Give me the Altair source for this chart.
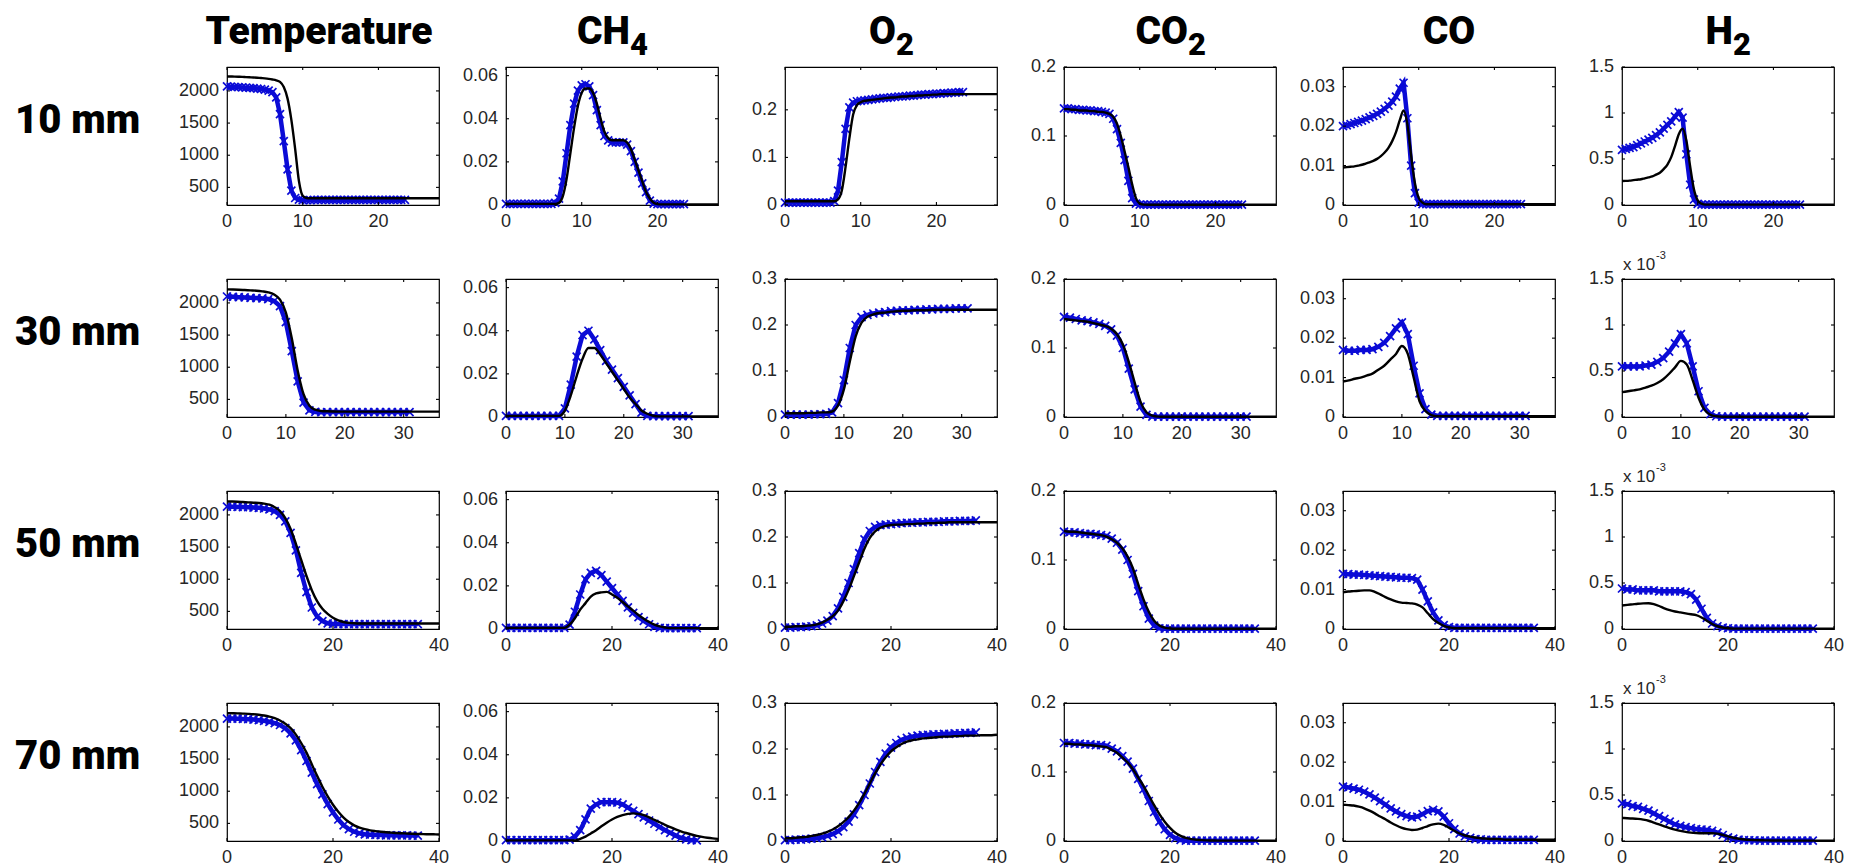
import altair as alt
import pandas as pd

# ---------------- sampling positions (x, arbitrary units) ----------------
X_R1_MODEL = [0, 0.5, 1, 1.5, 2, 2.5, 3, 3.5, 4, 4.5, 5, 5.5, 6, 6.5, 7, 7.5, 8, 8.5, 9, 9.5,
              10, 10.5, 11, 11.5, 12, 12.5, 13, 13.5, 14, 14.5, 15, 15.5, 16, 16.5, 17, 17.5,
              18, 18.5, 19, 19.5, 20, 20.5, 21, 21.5, 22, 22.5, 23, 23.5, 24, 24.5, 25, 25.5,
              26, 26.5, 27, 27.5, 28]
X_R1_MEAS = [0, 0.5, 1, 1.5, 2, 2.5, 3, 3.5, 4, 4.5, 5, 5.5, 6, 6.5, 7, 7.5, 8, 8.5, 9, 9.5,
             10, 10.5, 11, 11.5, 12, 12.5, 13, 13.5, 14, 14.5, 15, 15.5, 16, 16.5, 17, 17.5,
             18, 18.5, 19, 19.5, 20, 20.5, 21, 21.5, 22, 22.5, 23, 23.5]
X_R2_MODEL = [0, 1, 2, 3, 4, 5, 6, 7, 8, 9, 10, 11, 12, 13, 14, 15, 16, 17, 18, 19, 20,
              21, 22, 23, 24, 25, 26, 27, 28, 29, 30, 31, 32, 33, 34, 35, 36]
X_R2_MEAS = [0, 1, 2, 3, 4, 5, 6, 7, 8, 9, 10, 11, 12, 13, 14, 15, 16, 17, 18, 19, 20,
             21, 22, 23, 24, 25, 26, 27, 28, 29, 30, 31]
X_R34_MODEL = [0, 1, 2, 3, 4, 5, 6, 7, 8, 9, 10, 11, 12, 13, 14, 15, 16, 17, 18, 19, 20,
               21, 22, 23, 24, 25, 26, 27, 28, 29, 30, 31, 32, 33, 34, 35, 36, 37, 38, 39, 40]
X_R34_MEAS = [0, 1, 2, 3, 4, 5, 6, 7, 8, 9, 10, 11, 12, 13, 14, 15, 16, 17, 18, 19, 20,
              21, 22, 23, 24, 25, 26, 27, 28, 29, 30, 31, 32, 33, 34, 35, 36]

# ---------------- 10 mm ----------------
T10_MODEL = [2225, 2224, 2222, 2220, 2218, 2215, 2212, 2209, 2205, 2200,
             2195, 2188, 2178, 2165, 2140, 2060, 1880, 1550, 1100, 600,
             370, 335, 330,
             330, 330, 330, 330, 330, 330, 330, 330, 330, 330,
             330, 330, 330, 330, 330, 330, 330, 330, 330, 330,
             330, 330, 330, 330, 330, 330, 330, 330, 330, 330,
             330, 330, 330, 330]
T10_MEAS = [2070, 2066, 2062, 2058, 2054, 2050, 2046, 2042, 2036, 2030,
            2020, 2005, 1980, 1900, 1640, 1220, 780, 450, 335, 310,
            302, 300, 302,
            305, 305, 305, 305, 305, 305, 305, 305, 305, 305,
            305, 305, 305, 305, 305, 305, 305, 305, 305, 305,
            305, 305, 305, 305, 305]
CH4_10_MODEL = [0.0005, 0.0005, 0.0005, 0.0005, 0.0005, 0.0005, 0.0005, 0.0005, 0.0005, 0.0005,
                0.0005, 0.0005, 0.0005, 0.0005,
                0.001, 0.004, 0.012, 0.024, 0.036, 0.046, 0.052, 0.054, 0.054, 0.052,
                0.047, 0.040, 0.034, 0.031, 0.030, 0.030, 0.030, 0.030, 0.029, 0.026,
                0.021, 0.016, 0.011, 0.006, 0.003, 0.001, 0.0004,
                0.0003, 0.0003, 0.0003, 0.0003, 0.0003, 0.0003, 0.0003, 0.0003,
                0.0003, 0.0003, 0.0003, 0.0003, 0.0003, 0.0003, 0.0003, 0.0003]
CH4_10_MEAS = [0.0005, 0.0005, 0.0005, 0.0005, 0.0005, 0.0005, 0.0005, 0.0005, 0.0005, 0.0005,
               0.0005, 0.0005, 0.0005,
               0.001, 0.003, 0.011, 0.024, 0.037, 0.047, 0.053, 0.0555, 0.056, 0.055,
               0.051, 0.044, 0.037, 0.032, 0.030, 0.029, 0.029, 0.029, 0.029, 0.028,
               0.025, 0.020, 0.015, 0.010, 0.006, 0.002, 0.0006,
               0.0004, 0.0004, 0.0004, 0.0004, 0.0004, 0.0004, 0.0004, 0.0004]
O2_10_MODEL = [0.008, 0.008, 0.008, 0.008, 0.008, 0.008, 0.008, 0.008, 0.008, 0.008,
               0.008, 0.008, 0.008, 0.008,
               0.012, 0.030, 0.080, 0.140, 0.190, 0.210, 0.216, 0.219, 0.220, 0.221,
               0.222, 0.223, 0.224, 0.225, 0.226, 0.226, 0.227, 0.228, 0.228, 0.229,
               0.229, 0.230, 0.230, 0.231, 0.231, 0.232, 0.232,
               0.233, 0.233, 0.233, 0.233, 0.233, 0.233, 0.233, 0.233,
               0.233, 0.233, 0.233, 0.233, 0.233, 0.233, 0.233, 0.233]
O2_10_MEAS = [0.005, 0.005, 0.005, 0.005, 0.005, 0.005, 0.005, 0.005, 0.005, 0.005,
              0.005, 0.005, 0.005,
              0.008, 0.030, 0.090, 0.160, 0.205, 0.215, 0.218, 0.219, 0.220, 0.221,
              0.222, 0.223, 0.224, 0.225, 0.225, 0.226, 0.227, 0.228, 0.228, 0.229,
              0.230, 0.230, 0.231, 0.232, 0.232, 0.233, 0.233, 0.234, 0.234, 0.235,
              0.235, 0.236, 0.236, 0.237, 0.237]
CO2_10_MODEL = [0.139, 0.139, 0.138, 0.138, 0.137, 0.137, 0.137, 0.136, 0.136, 0.135,
                0.135, 0.134, 0.132, 0.128, 0.118, 0.100, 0.078, 0.055, 0.030, 0.010,
                0.002, 0.0005,
                0.0003, 0.0003, 0.0003, 0.0003, 0.0003, 0.0003, 0.0003, 0.0003, 0.0003, 0.0003,
                0.0003, 0.0003, 0.0003, 0.0003, 0.0003, 0.0003, 0.0003, 0.0003, 0.0003, 0.0003,
                0.0003, 0.0003, 0.0003, 0.0003, 0.0003, 0.0003, 0.0003, 0.0003, 0.0003, 0.0003,
                0.0003, 0.0003, 0.0003, 0.0003, 0.0003]
CO2_10_MEAS = [0.140, 0.140, 0.139, 0.139, 0.138, 0.138, 0.137, 0.137, 0.136, 0.136,
               0.135, 0.134, 0.132, 0.125, 0.110, 0.090, 0.065, 0.035, 0.010, 0.002,
               0.0004, 0.0004, 0.0004, 0.0004, 0.0004, 0.0004, 0.0004, 0.0004, 0.0004, 0.0004,
               0.0004, 0.0004, 0.0004, 0.0004, 0.0004, 0.0004, 0.0004, 0.0004, 0.0004, 0.0004,
               0.0004, 0.0004, 0.0004, 0.0004, 0.0004, 0.0004, 0.0004, 0.0004]
CO_10_MODEL = [0.0095, 0.0096, 0.0097, 0.0098, 0.0100, 0.0102, 0.0105, 0.0108, 0.0112, 0.0117,
               0.0124, 0.0133, 0.0145, 0.0162, 0.0185, 0.0215, 0.0240, 0.0205, 0.0125, 0.0055,
               0.0018, 0.0006,
               0.0002, 0.0002, 0.0002, 0.0002, 0.0002, 0.0002, 0.0002, 0.0002, 0.0002, 0.0002,
               0.0002, 0.0002, 0.0002, 0.0002, 0.0002, 0.0002, 0.0002, 0.0002, 0.0002, 0.0002,
               0.0002, 0.0002, 0.0002, 0.0002, 0.0002, 0.0002, 0.0002, 0.0002, 0.0002, 0.0002,
               0.0002, 0.0002, 0.0002, 0.0002, 0.0002]
CO_10_MEAS = [0.0200, 0.0202, 0.0205, 0.0208, 0.0211, 0.0214, 0.0218, 0.0222, 0.0226, 0.0231,
              0.0237, 0.0244, 0.0252, 0.0262, 0.0275, 0.0295, 0.0310, 0.0220, 0.0100, 0.0030,
              0.0006,
              0.0002, 0.0002, 0.0002, 0.0002, 0.0002, 0.0002, 0.0002, 0.0002, 0.0002, 0.0002,
              0.0002, 0.0002, 0.0002, 0.0002, 0.0002, 0.0002, 0.0002, 0.0002, 0.0002, 0.0002,
              0.0002, 0.0002, 0.0002, 0.0002, 0.0002, 0.0002, 0.0002]
H2_10_MODEL = [0.260, 0.262, 0.265, 0.270, 0.275, 0.280, 0.290, 0.300, 0.310, 0.330,
               0.350, 0.390, 0.440, 0.520, 0.640, 0.770, 0.830, 0.700, 0.420, 0.170,
               0.050, 0.015,
               0.004, 0.004, 0.004, 0.004, 0.004, 0.004, 0.004, 0.004, 0.004, 0.004,
               0.004, 0.004, 0.004, 0.004, 0.004, 0.004, 0.004, 0.004, 0.004, 0.004,
               0.004, 0.004, 0.004, 0.004, 0.004, 0.004, 0.004, 0.004, 0.004, 0.004,
               0.004, 0.004, 0.004, 0.004, 0.004]
H2_10_MEAS = [0.60, 0.61, 0.62, 0.63, 0.65, 0.67, 0.69, 0.71, 0.73, 0.76,
              0.79, 0.83, 0.87, 0.91, 0.96, 1.01, 0.95, 0.55, 0.22, 0.06,
              0.012,
              0.004, 0.004, 0.004, 0.004, 0.004, 0.004, 0.004, 0.004, 0.004, 0.004,
              0.004, 0.004, 0.004, 0.004, 0.004, 0.004, 0.004, 0.004, 0.004, 0.004,
              0.004, 0.004, 0.004, 0.004, 0.004, 0.004, 0.004]

# ---------------- 30 mm ----------------
T30_MODEL = [2210, 2208, 2205, 2200, 2195, 2190, 2180, 2165, 2130, 2050,
             1850, 1450, 950, 580, 400, 340, 320, 315, 312,
             310, 310, 310, 310, 310, 310, 310, 310, 310, 310,
             310, 310, 310, 310, 310, 310, 310, 310]
T30_MEAS = [2100, 2095, 2090, 2085, 2080, 2075, 2070, 2060, 2030, 1950,
            1700, 1250, 780, 450, 330, 305, 300,
            302, 302, 302, 302, 302, 302, 302, 302, 302, 302,
            302, 302, 302, 302, 302]
CH4_30_MODEL = [0.0005, 0.0005, 0.0005, 0.0005, 0.0005, 0.0005, 0.0005, 0.0005, 0.0005, 0.0005,
                0.003, 0.010, 0.019, 0.027, 0.032, 0.032, 0.029, 0.025, 0.021, 0.017,
                0.013, 0.009, 0.006, 0.003, 0.0015, 0.0006,
                0.0003, 0.0003, 0.0003, 0.0003, 0.0003, 0.0003, 0.0003, 0.0003, 0.0003, 0.0003,
                0.0003]
CH4_30_MEAS = [0.0005, 0.0005, 0.0005, 0.0005, 0.0005, 0.0005, 0.0005, 0.0005, 0.0005, 0.0005,
               0.004, 0.015, 0.028, 0.038, 0.040, 0.036, 0.031, 0.026, 0.022, 0.018,
               0.014, 0.010, 0.006, 0.002, 0.0005,
               0.0004, 0.0004, 0.0004, 0.0004, 0.0004, 0.0004, 0.0004]
O2_30_MODEL = [0.008, 0.008, 0.008, 0.008, 0.009, 0.009, 0.010, 0.010, 0.012, 0.025,
               0.060, 0.120, 0.175, 0.205, 0.218, 0.223, 0.226, 0.227, 0.229, 0.230,
               0.231, 0.231, 0.232, 0.232, 0.232,
               0.233, 0.233, 0.233, 0.233, 0.233, 0.233, 0.233, 0.233, 0.233, 0.233,
               0.233, 0.233]
O2_30_MEAS = [0.005, 0.005, 0.005, 0.005, 0.005, 0.006, 0.006, 0.007, 0.010, 0.030,
              0.080, 0.150, 0.200, 0.217, 0.222, 0.225, 0.227, 0.228, 0.230, 0.231,
              0.232, 0.232, 0.233, 0.233, 0.234, 0.234, 0.235, 0.235, 0.235, 0.236,
              0.236, 0.236]
CO2_30_MODEL = [0.142, 0.141, 0.140, 0.139, 0.138, 0.136, 0.134, 0.132, 0.128, 0.120,
                0.105, 0.080, 0.050, 0.022, 0.007, 0.002, 0.0006,
                0.0003, 0.0003, 0.0003, 0.0003, 0.0003, 0.0003, 0.0003, 0.0003, 0.0003, 0.0003,
                0.0003, 0.0003, 0.0003, 0.0003, 0.0003, 0.0003, 0.0003, 0.0003, 0.0003, 0.0003]
CO2_30_MEAS = [0.145, 0.144, 0.142, 0.140, 0.139, 0.137, 0.135, 0.132, 0.127, 0.118,
               0.100, 0.070, 0.040, 0.015, 0.003, 0.0006,
               0.0004, 0.0004, 0.0004, 0.0004, 0.0004, 0.0004, 0.0004, 0.0004,
               0.0004, 0.0004, 0.0004, 0.0004, 0.0004, 0.0004, 0.0004, 0.0004]
CO_30_MODEL = [0.0090, 0.0093, 0.0097, 0.0100, 0.0105, 0.0110, 0.0120, 0.0130, 0.0145, 0.0160,
               0.0180, 0.0160, 0.0100, 0.0040, 0.0015, 0.0005,
               0.0002, 0.0002, 0.0002, 0.0002, 0.0002, 0.0002, 0.0002, 0.0002, 0.0002, 0.0002,
               0.0002, 0.0002, 0.0002, 0.0002, 0.0002, 0.0002, 0.0002, 0.0002, 0.0002, 0.0002,
               0.0002]
CO_30_MEAS = [0.0170, 0.0168, 0.0168, 0.0170, 0.0170, 0.0172, 0.0178, 0.0188, 0.0205, 0.0225,
              0.0240, 0.0210, 0.0130, 0.0060, 0.0020, 0.0006,
              0.0003, 0.0003, 0.0003, 0.0003, 0.0003, 0.0003, 0.0003, 0.0003,
              0.0003, 0.0003, 0.0003, 0.0003, 0.0003, 0.0003, 0.0003, 0.0003]
H2_30_MODEL = [0.27, 0.28, 0.29, 0.30, 0.32, 0.34, 0.37, 0.41, 0.47, 0.54,
               0.61, 0.57, 0.40, 0.21, 0.08, 0.025, 0.008,
               0.003, 0.003, 0.003, 0.003, 0.003, 0.003, 0.003, 0.003, 0.003, 0.003,
               0.003, 0.003, 0.003, 0.003, 0.003, 0.003, 0.003, 0.003, 0.003, 0.003]
H2_30_MEAS = [0.55, 0.55, 0.55, 0.55, 0.56, 0.57, 0.60, 0.64, 0.71, 0.80,
              0.90, 0.80, 0.55, 0.28, 0.10, 0.03, 0.008,
              0.004, 0.004, 0.004, 0.004, 0.004, 0.004, 0.004, 0.004,
              0.004, 0.004, 0.004, 0.004, 0.004, 0.004, 0.004]

# ---------------- 50 mm ----------------
T50_MODEL = [2210, 2208, 2205, 2200, 2195, 2190, 2185, 2175, 2160, 2120,
             2060, 1950, 1780, 1550, 1300, 1050, 830, 660, 540, 460,
             400, 360, 335, 322, 315,
             312, 312, 312, 312, 312, 312, 312, 312, 312, 312,
             312, 312, 312, 312, 312, 312]
T50_MEAS = [2130, 2128, 2125, 2122, 2120, 2115, 2110, 2100, 2085, 2060,
            2000, 1900, 1720, 1450, 1100, 800, 560, 420, 350, 315,
            305,
            302, 302, 302, 302, 302, 302, 302, 302, 302, 302,
            302, 302, 302, 302, 302, 302]
CH4_50_MODEL = [0.0005, 0.0005, 0.0005, 0.0005, 0.0005, 0.0005, 0.0005, 0.0005, 0.0005, 0.0005,
                0.0005, 0.0005,
                0.002, 0.005, 0.009, 0.012, 0.015, 0.0165, 0.017, 0.0172, 0.016, 0.0145,
                0.0125, 0.0105, 0.0085, 0.0065, 0.0048, 0.0033, 0.002, 0.0012, 0.0007,
                0.0004, 0.0004, 0.0004, 0.0004, 0.0004, 0.0004, 0.0004, 0.0004, 0.0004, 0.0004]
CH4_50_MEAS = [0.0005, 0.0005, 0.0005, 0.0005, 0.0005, 0.0005, 0.0005, 0.0005, 0.0005, 0.0005,
               0.0005, 0.0005,
               0.002, 0.008, 0.016, 0.023, 0.026, 0.027, 0.025, 0.022, 0.019, 0.016,
               0.013, 0.010, 0.0075, 0.0055, 0.0038, 0.0022, 0.001, 0.0005,
               0.0004, 0.0004, 0.0004, 0.0004, 0.0004, 0.0004, 0.0004]
O2_50_MODEL = [0.005, 0.005, 0.006, 0.006, 0.007, 0.008, 0.010, 0.014, 0.020, 0.028,
               0.040, 0.060, 0.085, 0.115, 0.145, 0.175, 0.198, 0.212, 0.220, 0.224,
               0.226, 0.227, 0.227, 0.228, 0.228, 0.229, 0.229, 0.230, 0.230, 0.231,
               0.231,
               0.232, 0.232, 0.232, 0.232, 0.232, 0.232, 0.232, 0.232, 0.232, 0.232]
O2_50_MEAS = [0.003, 0.003, 0.004, 0.004, 0.005, 0.006, 0.008, 0.012, 0.018, 0.028,
              0.045, 0.070, 0.100, 0.130, 0.165, 0.195, 0.213, 0.222, 0.226, 0.227,
              0.228, 0.229, 0.230, 0.231, 0.231, 0.232, 0.232, 0.233, 0.233, 0.233,
              0.234, 0.234, 0.234, 0.235, 0.235, 0.235, 0.236]
CO2_50_MODEL = [0.142, 0.141, 0.141, 0.140, 0.139, 0.138, 0.137, 0.136, 0.134, 0.130,
                0.125, 0.117, 0.105, 0.088, 0.065, 0.043, 0.025, 0.012, 0.005, 0.002,
                0.0008,
                0.0003, 0.0003, 0.0003, 0.0003, 0.0003, 0.0003, 0.0003, 0.0003, 0.0003, 0.0003,
                0.0003, 0.0003, 0.0003, 0.0003, 0.0003, 0.0003, 0.0003, 0.0003, 0.0003, 0.0003]
CO2_50_MEAS = [0.141, 0.140, 0.140, 0.139, 0.138, 0.138, 0.137, 0.136, 0.135, 0.131,
               0.125, 0.115, 0.100, 0.080, 0.055, 0.033, 0.015, 0.005, 0.001,
               0.0004, 0.0004, 0.0004, 0.0004, 0.0004, 0.0004, 0.0004, 0.0004, 0.0004,
               0.0004, 0.0004, 0.0004, 0.0004, 0.0004, 0.0004, 0.0004, 0.0004, 0.0004]
CO_50_MODEL = [0.0093, 0.0095, 0.0096, 0.0097, 0.0098, 0.0098, 0.0094, 0.0088, 0.0081, 0.0075,
               0.0070, 0.0067, 0.0066, 0.0065, 0.0062, 0.0055, 0.0040, 0.0025, 0.0015, 0.0008,
               0.0004,
               0.0002, 0.0002, 0.0002, 0.0002, 0.0002, 0.0002, 0.0002, 0.0002, 0.0002, 0.0002,
               0.0002, 0.0002, 0.0002, 0.0002, 0.0002, 0.0002, 0.0002, 0.0002, 0.0002, 0.0002]
CO_50_MEAS = [0.0140, 0.0139, 0.0138, 0.0138, 0.0137, 0.0136, 0.0135, 0.0134, 0.0133, 0.0132,
              0.0131, 0.0130, 0.0130, 0.0129, 0.0125, 0.0100, 0.0070, 0.0042, 0.0022, 0.0010,
              0.0005,
              0.0003, 0.0003, 0.0003, 0.0003, 0.0003, 0.0003, 0.0003, 0.0003,
              0.0003, 0.0003, 0.0003, 0.0003, 0.0003, 0.0003, 0.0003, 0.0003]
H2_50_MODEL = [0.255, 0.262, 0.268, 0.274, 0.278, 0.280, 0.270, 0.250, 0.225, 0.205,
               0.190, 0.180, 0.170, 0.160, 0.150, 0.125, 0.090, 0.055, 0.030, 0.016,
               0.008,
               0.004, 0.004, 0.004, 0.004, 0.004, 0.004, 0.004, 0.004, 0.004, 0.004,
               0.004, 0.004, 0.004, 0.004, 0.004, 0.004, 0.004, 0.004, 0.004, 0.004]
H2_50_MEAS = [0.44, 0.43, 0.43, 0.42, 0.42, 0.42, 0.42, 0.41, 0.41, 0.41,
              0.41, 0.41, 0.40, 0.38, 0.32, 0.22, 0.12, 0.06, 0.03, 0.015,
              0.008,
              0.004, 0.004, 0.004, 0.004, 0.004, 0.004, 0.004, 0.004,
              0.004, 0.004, 0.004, 0.004, 0.004, 0.004, 0.004, 0.004]

# ---------------- 70 mm ----------------
T70_MODEL = [2215, 2213, 2210, 2207, 2203, 2198, 2190, 2178, 2160, 2135,
             2100, 2050, 1980, 1880, 1750, 1600, 1420, 1240, 1070, 920,
             790, 680, 590, 520, 470, 435, 410, 392, 380, 370,
             362, 356, 350, 346, 342, 338, 335, 333, 331, 330, 328]
T70_MEAS = [2130, 2130, 2128, 2125, 2120, 2115, 2105, 2095, 2080, 2060,
            2030, 1980, 1900, 1790, 1640, 1470, 1290, 1110, 950, 800,
            670, 560, 470, 410, 370, 345, 330, 325, 320, 318,
            315, 315, 313, 312, 312, 310, 310]
CH4_70_MODEL = [0.0003, 0.0003, 0.0003, 0.0003, 0.0003, 0.0003, 0.0003, 0.0003, 0.0003, 0.0003,
                0.0003, 0.0003, 0.0003, 0.0003,
                0.001, 0.002, 0.0035, 0.005, 0.0068, 0.0085, 0.010, 0.0112, 0.012, 0.0126,
                0.0128, 0.0126, 0.012, 0.011, 0.0098, 0.0087, 0.0075, 0.0064, 0.0054, 0.0045,
                0.0037, 0.003, 0.0024, 0.0019, 0.0015, 0.0012, 0.001]
CH4_70_MEAS = [0.0004, 0.0004, 0.0004, 0.0004, 0.0004, 0.0004, 0.0004, 0.0004, 0.0004, 0.0004,
               0.0004, 0.0004,
               0.0006, 0.002, 0.005, 0.010, 0.015, 0.017, 0.018, 0.018, 0.018, 0.0178,
               0.017, 0.0155, 0.014, 0.0125, 0.011, 0.0095, 0.008, 0.0065, 0.005, 0.0038,
               0.0025, 0.0015, 0.0008, 0.0004, 0.0003]
O2_70_MODEL = [0.006, 0.006, 0.007, 0.008, 0.009, 0.011, 0.013, 0.016, 0.020, 0.025,
               0.032, 0.041, 0.052, 0.066, 0.083, 0.103, 0.125, 0.147, 0.166, 0.182,
               0.195, 0.204, 0.211, 0.216, 0.219, 0.221, 0.223, 0.224, 0.225, 0.226,
               0.227, 0.227, 0.228, 0.228, 0.229, 0.229, 0.229, 0.230, 0.230, 0.230, 0.231]
O2_70_MEAS = [0.002, 0.002, 0.003, 0.003, 0.004, 0.005, 0.006, 0.008, 0.011, 0.015,
              0.021, 0.030, 0.042, 0.058, 0.078, 0.100, 0.125, 0.150, 0.172, 0.190,
              0.203, 0.213, 0.220, 0.224, 0.227, 0.229, 0.230, 0.231, 0.232, 0.232,
              0.233, 0.233, 0.234, 0.234, 0.235, 0.235, 0.236]
CO2_70_MODEL = [0.141, 0.141, 0.140, 0.140, 0.139, 0.139, 0.138, 0.137, 0.136, 0.132,
                0.128, 0.121, 0.114, 0.104, 0.092, 0.080, 0.066, 0.052, 0.039, 0.028,
                0.019, 0.012, 0.0075, 0.0045, 0.0028, 0.0018, 0.0012, 0.0009, 0.0007,
                0.0005, 0.0005, 0.0005, 0.0005, 0.0005, 0.0005, 0.0005, 0.0005, 0.0005,
                0.0005, 0.0005, 0.0005]
CO2_70_MEAS = [0.142, 0.142, 0.141, 0.141, 0.140, 0.140, 0.139, 0.139, 0.138, 0.134,
               0.130, 0.123, 0.115, 0.105, 0.090, 0.075, 0.058, 0.042, 0.028, 0.017,
               0.009, 0.004, 0.0015, 0.0005,
               0.0004, 0.0004, 0.0004, 0.0004, 0.0004, 0.0004, 0.0004, 0.0004, 0.0004,
               0.0004, 0.0004, 0.0004, 0.0004]
CO_70_MODEL = [0.0092, 0.0091, 0.0090, 0.0087, 0.0083, 0.0077, 0.0070, 0.0062, 0.0055, 0.0047,
               0.0040, 0.0034, 0.0030, 0.0028, 0.0029, 0.0033, 0.0038, 0.0042, 0.0044, 0.0041,
               0.0034, 0.0026, 0.0019, 0.0014, 0.0011, 0.0009, 0.0007, 0.0006, 0.0005, 0.0005,
               0.0004,
               0.0003, 0.0003, 0.0003, 0.0003, 0.0003, 0.0003, 0.0003, 0.0003, 0.0003, 0.0003]
CO_70_MEAS = [0.0138, 0.0136, 0.0133, 0.0130, 0.0125, 0.0118, 0.0110, 0.0101, 0.0092, 0.0083,
              0.0075, 0.0068, 0.0063, 0.0060, 0.0062, 0.0068, 0.0076, 0.0079, 0.0075, 0.0062,
              0.0045, 0.0030, 0.0019, 0.0012, 0.0008, 0.0005, 0.0004,
              0.0003, 0.0003, 0.0003, 0.0003, 0.0003, 0.0003, 0.0003, 0.0003, 0.0003, 0.0003]
H2_70_MODEL = [0.250, 0.248, 0.245, 0.240, 0.232, 0.220, 0.200, 0.180, 0.160, 0.140,
               0.124, 0.110, 0.099, 0.091, 0.087, 0.085, 0.085, 0.085, 0.080, 0.065,
               0.050, 0.035, 0.025, 0.017, 0.012, 0.010, 0.008, 0.007, 0.006, 0.005,
               0.005,
               0.004, 0.004, 0.004, 0.004, 0.004, 0.004, 0.004, 0.004, 0.004, 0.004]
H2_70_MEAS = [0.41, 0.40, 0.38, 0.37, 0.35, 0.33, 0.30, 0.27, 0.24, 0.21,
              0.18, 0.165, 0.150, 0.140, 0.130, 0.125, 0.120, 0.110, 0.090, 0.065,
              0.040, 0.025, 0.015, 0.010, 0.008, 0.006,
              0.005, 0.005, 0.005, 0.005, 0.005, 0.005, 0.005, 0.005, 0.005, 0.005, 0.005]

# ---------------- layout / labels ----------------
ROW_LABELS = ["10 mm", "30 mm", "50 mm", "70 mm"]
COL_MAIN = ["Temperature", "CH", "O", "CO", "CO", "H"]
COL_SUB = ["", "4", "2", "2", "", "2"]
X_MAX = [28, 36, 40, 40]
X_TICKS = [[0, 10, 20], [0, 10, 20, 30], [0, 20, 40], [0, 20, 40]]
X_TICK_LABELS = [["0", "10", "20"], ["0", "10", "20", "30"], ["0", "20", "40"], ["0", "20", "40"]]
Y_DOMAINS = [[226, 2372], [0, 0.064], [0, 0.3], [0, 0.2], [0, 0.035], [0, 1.5]]
Y_DOMAIN_O2_ROW1 = [0, 0.29]
Y_TICKS = [[500, 1000, 1500, 2000], [0, 0.02, 0.04, 0.06], [0, 0.1, 0.2, 0.3],
           [0, 0.1, 0.2], [0, 0.01, 0.02, 0.03], [0, 0.5, 1, 1.5]]
Y_TICK_LABELS = [["500", "1000", "1500", "2000"], ["0", "0.02", "0.04", "0.06"],
                 ["0", "0.1", "0.2", "0.3"], ["0", "0.1", "0.2"],
                 ["0", "0.01", "0.02", "0.03"], ["0", "0.5", "1", "1.5"]]
Y_TICKS_O2_ROW1 = [0, 0.1, 0.2]
Y_TICK_LABELS_O2_ROW1 = ["0", "0.1", "0.2"]

MODEL = [
    [T10_MODEL, CH4_10_MODEL, O2_10_MODEL, CO2_10_MODEL, CO_10_MODEL, H2_10_MODEL],
    [T30_MODEL, CH4_30_MODEL, O2_30_MODEL, CO2_30_MODEL, CO_30_MODEL, H2_30_MODEL],
    [T50_MODEL, CH4_50_MODEL, O2_50_MODEL, CO2_50_MODEL, CO_50_MODEL, H2_50_MODEL],
    [T70_MODEL, CH4_70_MODEL, O2_70_MODEL, CO2_70_MODEL, CO_70_MODEL, H2_70_MODEL],
]
MEAS = [
    [T10_MEAS, CH4_10_MEAS, O2_10_MEAS, CO2_10_MEAS, CO_10_MEAS, H2_10_MEAS],
    [T30_MEAS, CH4_30_MEAS, O2_30_MEAS, CO2_30_MEAS, CO_30_MEAS, H2_30_MEAS],
    [T50_MEAS, CH4_50_MEAS, O2_50_MEAS, CO2_50_MEAS, CO_50_MEAS, H2_50_MEAS],
    [T70_MEAS, CH4_70_MEAS, O2_70_MEAS, CO2_70_MEAS, CO_70_MEAS, H2_70_MEAS],
]
X_MODEL = [X_R1_MODEL, X_R2_MODEL, X_R34_MODEL, X_R34_MODEL]
X_MEAS = [X_R1_MEAS, X_R2_MEAS, X_R34_MEAS, X_R34_MEAS]

for r in range(4):
    for c in range(6):
        if len(MODEL[r][c]) != len(X_MODEL[r]):
            raise ValueError(f"model r{r} c{c}: {len(MODEL[r][c])} vs {len(X_MODEL[r])}")
        if len(MEAS[r][c]) != len(X_MEAS[r]):
            raise ValueError(f"meas r{r} c{c}: {len(MEAS[r][c])} vs {len(X_MEAS[r])}")

W, H = 212, 138
TICK = 3
BLUE = "#0b0bd6"
LABEL_COLOR = "#262626"
LABEL_FONT = "Liberation Sans, Arial, Helvetica, sans-serif"
HEAD_FONT = "Roboto, Liberation Sans, Arial, sans-serif"
HEAD_WEIGHT = 900
XSHAPE = "M-1,-1L1,1M-1,1L1,-1"
TITLE_SIZE = 39
SUB_SIZE = 31
TITLE_BASE = -23
SUB_BASE = -12
# anchor (px from panel left) where main text ends / subscript starts
TITLE_ANCHOR = [92, 124, 111, 124, 106, 111]


def text_layer(txt, x, y, size, align, font, weight="normal", color="black"):
    return alt.Chart(pd.DataFrame({"s": [txt]})).mark_text(
        align=align, baseline="alphabetic", font=font, fontSize=size,
        fontWeight=weight, color=color
    ).encode(text="s:N", x=alt.value(x), y=alt.value(y))


def panel(r, c):
    o2r1 = (c == 2 and r == 0)
    ydom = Y_DOMAIN_O2_ROW1 if o2r1 else Y_DOMAINS[c]
    yt = Y_TICKS_O2_ROW1 if o2r1 else Y_TICKS[c]
    ytl = Y_TICK_LABELS_O2_ROW1 if o2r1 else Y_TICK_LABELS[c]
    xs = alt.Scale(domain=[0, X_MAX[r]], nice=False, zero=False)
    ys = alt.Scale(domain=ydom, nice=False, zero=False)

    meas_df = pd.DataFrame({"t": X_MEAS[r], "v": MEAS[r][c]})
    model_df = pd.DataFrame({"t": X_MODEL[r], "v": MODEL[r][c]})
    ytk = pd.DataFrame({"v": yt, "s": ytl})
    xtk = pd.DataFrame({"t": X_TICKS[r], "s": X_TICK_LABELS[r]})

    X = alt.X("t:Q", scale=xs, axis=None)
    Y = alt.Y("v:Q", scale=ys, axis=None)

    band = alt.Chart(meas_df).mark_line(
        color=BLUE, strokeWidth=4.5, interpolate="linear"
    ).encode(x=X, y=Y)
    pts = alt.Chart(meas_df).mark_point(
        shape=XSHAPE, filled=False, size=64, strokeWidth=1.7, color=BLUE, opacity=1
    ).encode(x=X, y=Y)
    line = alt.Chart(model_df).mark_line(
        color="black", strokeWidth=2.4, interpolate="monotone"
    ).encode(x=X, y=Y)

    rule = dict(color="black", strokeWidth=1.1)
    left = alt.Chart(ytk).mark_rule(**rule).encode(y=Y, x=alt.value(0), x2=alt.value(TICK))
    right = alt.Chart(ytk).mark_rule(**rule).encode(y=Y, x=alt.value(W - TICK), x2=alt.value(W))
    bottom = alt.Chart(xtk).mark_rule(**rule).encode(x=X, y=alt.value(H - TICK), y2=alt.value(H))
    top = alt.Chart(xtk).mark_rule(**rule).encode(x=X, y=alt.value(0), y2=alt.value(TICK))

    ylab = alt.Chart(ytk).mark_text(
        align="right", baseline="middle", font=LABEL_FONT, fontSize=18, color=LABEL_COLOR
    ).encode(y=Y, x=alt.value(-8), text="s:N")
    xlab = alt.Chart(xtk).mark_text(
        align="center", baseline="top", font=LABEL_FONT, fontSize=18, color=LABEL_COLOR
    ).encode(x=X, y=alt.value(H + 8), text="s:N")

    layers = [band, pts, line, left, right, bottom, top, ylab, xlab]

    if r == 0:
        a = TITLE_ANCHOR[c]
        if COL_SUB[c]:
            layers.append(text_layer(COL_MAIN[c], a, TITLE_BASE, TITLE_SIZE, "right",
                                     HEAD_FONT, HEAD_WEIGHT))
            layers.append(text_layer(COL_SUB[c], a, SUB_BASE, SUB_SIZE, "left",
                                     HEAD_FONT, HEAD_WEIGHT))
        else:
            layers.append(text_layer(COL_MAIN[c], a, TITLE_BASE, TITLE_SIZE, "center",
                                     HEAD_FONT, HEAD_WEIGHT))
    if c == 5 and r > 0:
        layers.append(text_layer("x 10", 1, -9, 17, "left", LABEL_FONT, color=LABEL_COLOR))
        layers.append(text_layer("-3", 34, -20, 11, "left", LABEL_FONT, color=LABEL_COLOR))

    return alt.layer(*layers).properties(
        width=W, height=H,
        view=alt.ViewBackground(stroke="black", strokeWidth=1.2, fill="white"),
    )


def row_label(r):
    return text_layer(ROW_LABELS[r], 14, 66, 40, "left", HEAD_FONT, HEAD_WEIGHT).properties(
        width=159, height=H, view=alt.ViewBackground(stroke="transparent")
    )


cells = []
for r in range(4):
    cells.append(row_label(r))
    for c in range(6):
        cells.append(panel(r, c))

chart = alt.concat(
    *cells, columns=7, spacing={"row": 74, "column": 67}, bounds="flush", align="each"
).properties(
    padding={"left": 0, "top": 12, "right": 0, "bottom": 0},
    background="white",
)

chart.save("out.html", embed_options={"renderer": "svg", "actions": False})
